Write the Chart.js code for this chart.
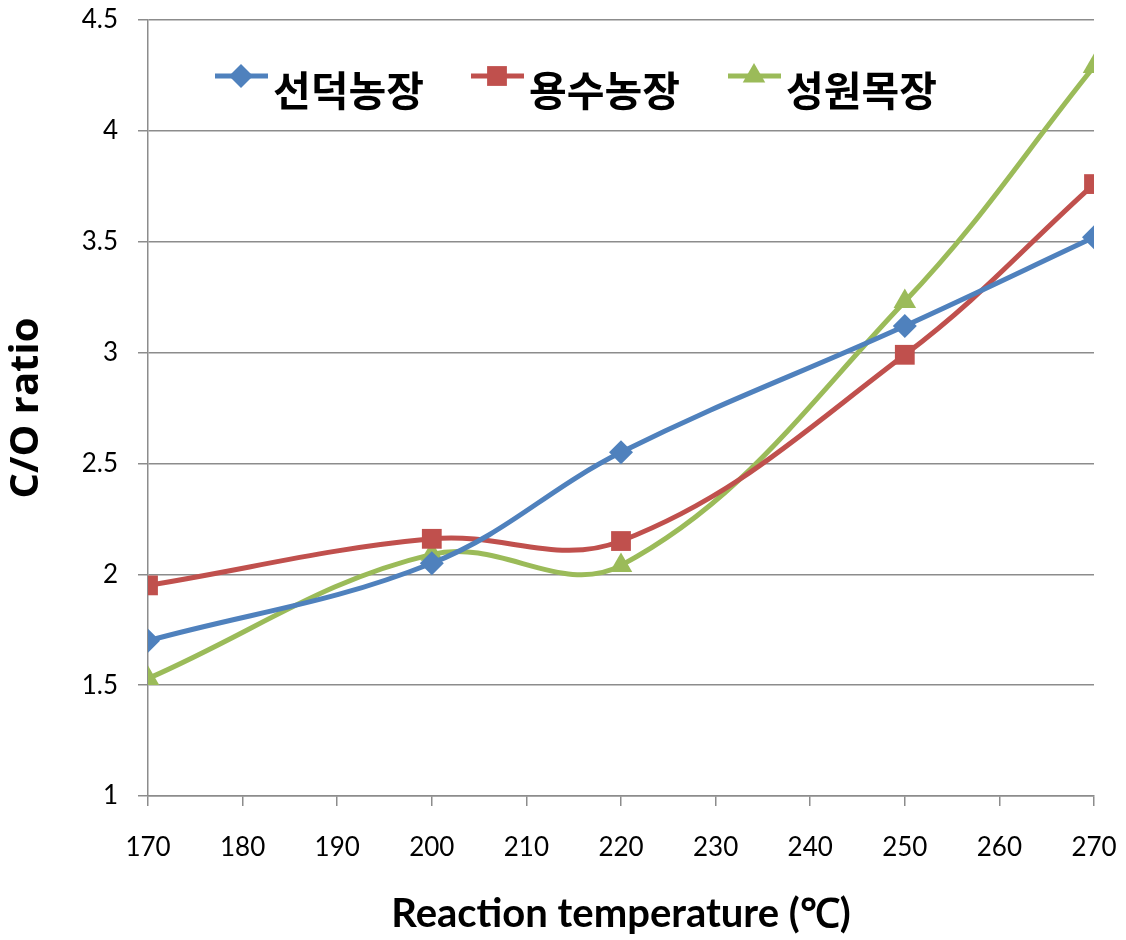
<!DOCTYPE html>
<html>
<head>
<meta charset="utf-8">
<script src="https://cdn.jsdelivr.net/npm/chart.js@4.4.1/dist/chart.umd.min.js"></script>
<style>
    body { margin: 0; background: #ffffff; }
    #wrap { width: 1126px; height: 940px; }
</style>
</head>
<body>
<div id="wrap"><canvas id="chart" width="1126" height="940"></canvas></div>
<script>
// reaction temperature (°C) and C/O ratio per farm
const temperatures = [170, 200, 220, 250, 270];
const seondeok = [1.70, 2.05, 2.55, 3.12, 3.52];
const yongsu = [1.95, 2.16, 2.15, 2.99, 3.76];
const seongwon = [1.53, 2.09, 2.04, 3.23, 4.29];
const farmNames = ['선덕농장', '용수농장', '성원목장'];

const gridColor = '#8c8c8c';
const tickFont = { family: 'Lato, "Open Sans", sans-serif', size: 26 };

function toPoints(values)
{
    return temperatures.map((t, i) => ({ x: t, y: values[i] }));
}

function makeSeries(name, values, color, style, radius)
{
    return {
        label: name,
        data: toPoints(values),
        borderColor: color,
        backgroundColor: color,
        borderWidth: 5,
        pointStyle: style,
        pointRadius: radius,
        pointHoverRadius: radius,
        pointBorderWidth: 0,
        tension: 0.38,
        fill: false
    };
}

// legend drawn inside the plot, across the top
const innerLegend = {
    id: 'innerLegend',
    afterDraw(chart)
    {
        const ctx = chart.ctx;
        const starts = [215, 471, 728];
        const lineY = 76;
        chart.data.datasets.forEach((ds, i) => {
            const x = starts[i];
            ctx.save();
            ctx.strokeStyle = ds.borderColor;
            ctx.lineWidth = ds.borderWidth;
            ctx.beginPath();
            ctx.moveTo(x, lineY);
            ctx.lineTo(x + 53, lineY);
            ctx.stroke();
            ctx.fillStyle = ds.backgroundColor;
            Chart.helpers.drawPoint(ctx, {
                pointStyle: ds.pointStyle,
                radius: ds.pointRadius,
                rotation: 0,
                borderWidth: 0
            }, x + 26, lineY);
            ctx.fillStyle = '#000000';
            ctx.font = 'bold 41px "Noto Sans CJK KR", sans-serif';
            ctx.textAlign = 'left';
            ctx.textBaseline = 'middle';
            ctx.fillText(ds.label, x + 58, lineY + 14);
            ctx.restore();
        });
    }
};

const ctx = document.getElementById('chart').getContext('2d');

new Chart(ctx, {
    type: 'line',
    data: {
        datasets: [
            makeSeries(farmNames[0], seondeok, '#4f81bd', 'rectRot', 12),
            makeSeries(farmNames[1], yongsu, '#c0504d', 'rect', 14),
            makeSeries(farmNames[2], seongwon, '#9bbb59', 'triangle', 13)
        ]
    },
    options: {
        responsive: false,
        animation: false,
        layout: { padding: { top: 20, right: 32, left: 0, bottom: 0 } },
        plugins: {
            legend: { display: false },
            tooltip: { enabled: false }
        },
        scales: {
            x: {
                type: 'linear',
                min: 170,
                max: 270,
                afterFit: (scale) => {
                    scale.height = 144;
                    scale.paddingLeft = 0;
                    scale.paddingRight = 0;
                },
                grid: {
                    drawOnChartArea: false,
                    drawTicks: true,
                    tickLength: 10,
                    color: gridColor,
                    lineWidth: 1.5
                },
                border: { color: gridColor, width: 1.5 },
                ticks: {
                    stepSize: 10,
                    color: '#000000',
                    font: tickFont,
                    padding: 26,
                    maxRotation: 0
                },
                title: {
                    display: true,
                    text: 'Reaction temperature (℃)',
                    color: '#000000',
                    font: { family: 'Lato, "Open Sans", sans-serif', size: 40, weight: 'bold' },
                    padding: { top: 0, bottom: 2 }
                }
            },
            y: {
                min: 1,
                max: 4.5,
                afterFit: (scale) => {
                    scale.width = 148;
                    scale.paddingTop = 0;
                    scale.paddingBottom = 0;
                },
                grid: {
                    drawTicks: true,
                    tickLength: 10,
                    color: gridColor,
                    lineWidth: 1.5
                },
                border: { color: gridColor, width: 1.5 },
                ticks: {
                    stepSize: 0.5,
                    color: '#000000',
                    font: tickFont,
                    padding: 20,
                    callback: (value) => String(value)
                },
                title: {
                    display: true,
                    text: 'C/O ratio',
                    color: '#000000',
                    font: { family: '"Open Sans", Lato, sans-serif', size: 40, weight: 'bold' },
                    padding: { top: 3, bottom: 0 }
                }
            }
        }
    },
    plugins: [innerLegend]
});
</script>
</body>
</html>
